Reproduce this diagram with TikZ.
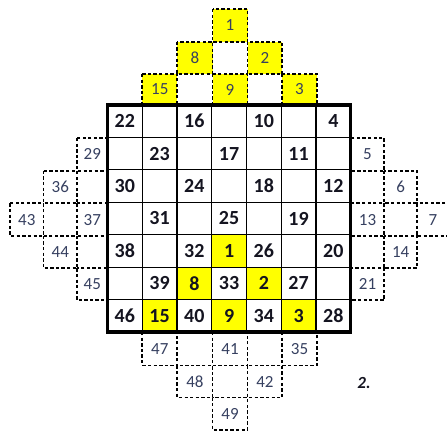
\documentclass[tikz,border=0pt]{standalone}
\usepackage{fontspec}
\setmainfont{Carlito}
\definecolor{cellyellow}{HTML}{FFFF00}
\definecolor{outtext}{HTML}{364060}
\definecolor{maintext}{HTML}{141420}
\begin{document}
\begin{tikzpicture}[x=1pt,y=-1pt,
  mainnum/.style={font=\fontsize{20}{20}\selectfont\bfseries, text=maintext, inner sep=0pt},
  outnum/.style={font=\fontsize{17}{17}\selectfont, text=outtext, inner sep=0pt},
  dbox/.style={draw=black, line width=1.8pt, dash pattern=on 3.3pt off 2.3pt},
  ybox/.style={dbox, fill=cellyellow},
  thinline/.style={line width=1.2pt, draw=black},
  thickline/.style={line width=3.2pt, draw=black}]
\useasboundingbox (0,0) rectangle (447,434);
% yellow cells of the main grid
\foreach \c/\r in {3/4,2/5,4/5,1/6,3/6,5/6}
  \fill[cellyellow] ({107.5+34.75*\c},{105+32.43*\r}) rectangle ({107.5+34.75*(\c+1)},{105+32.43*(\r+1)});
% thin grid lines
\foreach \i in {1,...,6} {
  \draw[thinline] ({107.5+34.75*\i},105) -- ({107.5+34.75*\i},332);
  \draw[thinline] (107.5,{105+32.43*\i}) -- (350.75,{105+32.43*\i});
}
% dashed yellow boxes on top
\foreach \a/\b/\c/\d/\t in {212.5/9/247.5/41.7/1, 177.3/41.7/212.5/74/8, 247.5/41.7/282.3/74/2,
    142.3/74/177.3/105/15, 212.5/74/247.5/105/9, 282.3/74/316.8/105/3} {
  \draw[ybox] (\a,\b) rectangle (\c,\d);
  \node[outnum] (t\t) at ({(\a+\c)/2},{(\b+\d)/2}) {\t};
}
% dashed white boxes
\foreach \a/\b/\c/\d/\t in {77/138/107.5/170.7/29, 43.5/170.7/77/203.3/36, 10/203.3/43.5/235.8/43,
    77/203.3/107.5/235.8/37, 43.5/235.8/77/268.3/44, 77/268.3/107.5/300.3/45,
    350.75/138/384.3/170.7/5, 384.3/170.7/417/203.3/6, 417/203.3/449/235.8/7,
    350.75/203.3/384.3/235.8/13, 384.3/235.8/417/268.3/14, 350.75/268.3/384.3/300.3/21,
    142.3/332/177.3/365.5/47, 212.5/332/247.5/365.5/41, 282.3/332/316.8/365.5/35,
    177.3/365.5/212.5/397.5/48, 247.5/365.5/282.3/397.5/42, 212.5/397.5/247.5/430/49} {
  \draw[dbox] (\a,\b) rectangle (\c,\d);
  \node[outnum] (o\t) at ({(\a+\c)/2},{(\b+\d)/2}) {\t};
}
% thick outer border
\draw[thickline] (107.5,105) rectangle (350.75,332);
% main numbers
\foreach \n/\c/\r in {22/0/0,16/2/0,10/4/0,4/6/0,
    23/1/1,17/3/1,11/5/1,
    30/0/2,24/2/2,18/4/2,12/6/2,
    31/1/3,25/3/3,19/5/3,
    38/0/4,32/2/4,1/3/4,26/4/4,20/6/4,
    39/1/5,8/2/5,33/3/5,2/4/5,27/5/5,
    46/0/6,15/1/6,40/2/6,9/3/6,34/4/6,3/5/6,28/6/6}
  \node[mainnum] (m\n) at ({107.5+34.75*(\c+0.5)},{105+32.43*(\r+0.5)}) {\n};
\node[font=\fontsize{17}{17}\selectfont\bfseries\itshape, text=maintext, inner sep=0pt] (lbl) at (364,383) {2.};
\end{tikzpicture}
\end{document}
